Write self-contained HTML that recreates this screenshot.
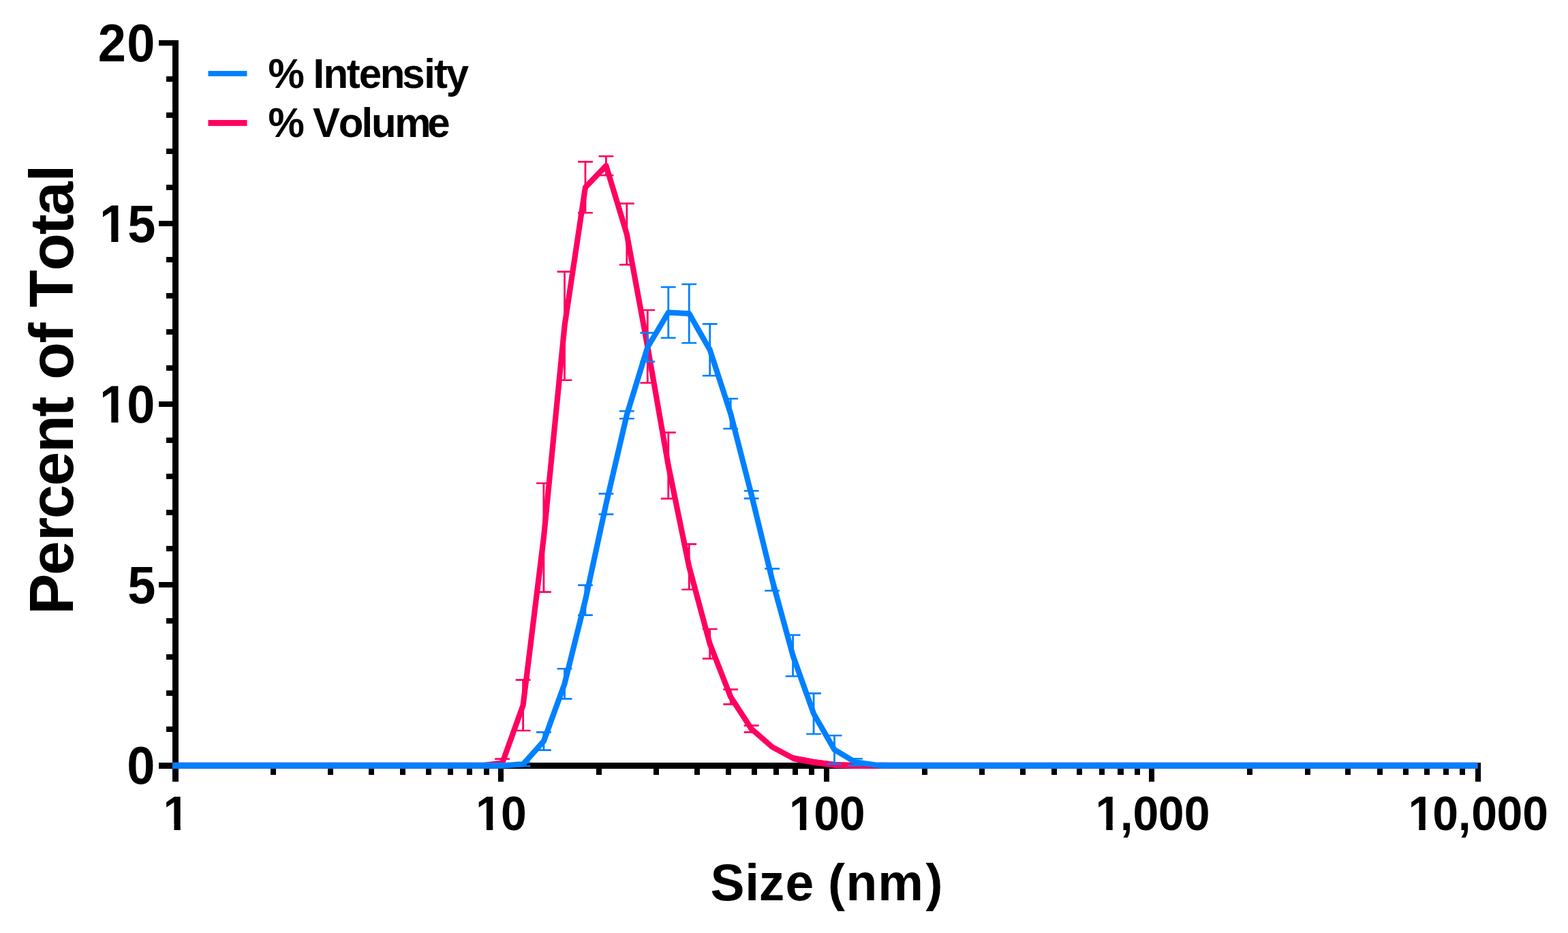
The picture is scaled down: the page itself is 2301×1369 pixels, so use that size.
<!DOCTYPE html>
<html lang="en"><head><meta charset="utf-8"><title>Size distribution</title>
<style>html,body{margin:0;padding:0;background:#fff;}svg{display:block;}text{font-family:"Liberation Sans",Arial,Helvetica,sans-serif;font-weight:700;fill:#000;font-kerning:none;white-space:pre;}</style>
</head><body>
<svg width="2301" height="1369" viewBox="0 0 2301 1369">
<rect width="2301" height="1369" fill="#fff"/>
<g id="axes">
<rect x="253.00" y="59.00" width="9.00" height="1088.00" fill="#000"/>
<rect x="233.00" y="1119.00" width="1940.00" height="9.00" fill="#000"/>
<rect x="244.00" y="1066.00" width="10.00" height="8.00" fill="#000"/>
<rect x="244.00" y="1013.00" width="10.00" height="8.00" fill="#000"/>
<rect x="244.00" y="960.00" width="10.00" height="8.00" fill="#000"/>
<rect x="244.00" y="907.00" width="10.00" height="8.00" fill="#000"/>
<rect x="233.00" y="854.00" width="21.00" height="8.00" fill="#000"/>
<rect x="244.00" y="801.00" width="10.00" height="8.00" fill="#000"/>
<rect x="244.00" y="748.00" width="10.00" height="8.00" fill="#000"/>
<rect x="244.00" y="695.00" width="10.00" height="8.00" fill="#000"/>
<rect x="244.00" y="642.00" width="10.00" height="8.00" fill="#000"/>
<rect x="233.00" y="589.00" width="21.00" height="8.00" fill="#000"/>
<rect x="244.00" y="536.00" width="10.00" height="8.00" fill="#000"/>
<rect x="244.00" y="483.00" width="10.00" height="8.00" fill="#000"/>
<rect x="244.00" y="430.00" width="10.00" height="8.00" fill="#000"/>
<rect x="244.00" y="377.00" width="10.00" height="8.00" fill="#000"/>
<rect x="233.00" y="324.00" width="21.00" height="8.00" fill="#000"/>
<rect x="244.00" y="271.00" width="10.00" height="8.00" fill="#000"/>
<rect x="244.00" y="218.00" width="10.00" height="8.00" fill="#000"/>
<rect x="244.00" y="165.00" width="10.00" height="8.00" fill="#000"/>
<rect x="244.00" y="112.00" width="10.00" height="8.00" fill="#000"/>
<rect x="233.00" y="59.00" width="21.00" height="8.00" fill="#000"/>
<rect x="397.00" y="1120.00" width="8.00" height="17.00" fill="#000"/>
<rect x="481.00" y="1120.00" width="8.00" height="17.00" fill="#000"/>
<rect x="541.00" y="1120.00" width="8.00" height="17.00" fill="#000"/>
<rect x="587.00" y="1120.00" width="8.00" height="17.00" fill="#000"/>
<rect x="625.00" y="1120.00" width="8.00" height="17.00" fill="#000"/>
<rect x="657.00" y="1120.00" width="8.00" height="17.00" fill="#000"/>
<rect x="685.00" y="1120.00" width="8.00" height="17.00" fill="#000"/>
<rect x="710.00" y="1120.00" width="8.00" height="17.00" fill="#000"/>
<rect x="875.00" y="1120.00" width="8.00" height="17.00" fill="#000"/>
<rect x="959.00" y="1120.00" width="8.00" height="17.00" fill="#000"/>
<rect x="1019.00" y="1120.00" width="8.00" height="17.00" fill="#000"/>
<rect x="1065.00" y="1120.00" width="8.00" height="17.00" fill="#000"/>
<rect x="1103.00" y="1120.00" width="8.00" height="17.00" fill="#000"/>
<rect x="1135.00" y="1120.00" width="8.00" height="17.00" fill="#000"/>
<rect x="1163.00" y="1120.00" width="8.00" height="17.00" fill="#000"/>
<rect x="1187.00" y="1120.00" width="8.00" height="17.00" fill="#000"/>
<rect x="1353.00" y="1120.00" width="8.00" height="17.00" fill="#000"/>
<rect x="1437.00" y="1120.00" width="8.00" height="17.00" fill="#000"/>
<rect x="1497.00" y="1120.00" width="8.00" height="17.00" fill="#000"/>
<rect x="1543.00" y="1120.00" width="8.00" height="17.00" fill="#000"/>
<rect x="1580.00" y="1120.00" width="8.00" height="17.00" fill="#000"/>
<rect x="1613.00" y="1120.00" width="8.00" height="17.00" fill="#000"/>
<rect x="1665.00" y="1120.00" width="8.00" height="17.00" fill="#000"/>
<rect x="1830.00" y="1120.00" width="8.00" height="17.00" fill="#000"/>
<rect x="1915.00" y="1120.00" width="8.00" height="17.00" fill="#000"/>
<rect x="1974.00" y="1120.00" width="8.00" height="17.00" fill="#000"/>
<rect x="2021.00" y="1120.00" width="8.00" height="17.00" fill="#000"/>
<rect x="2059.00" y="1120.00" width="8.00" height="17.00" fill="#000"/>
<rect x="2090.00" y="1120.00" width="8.00" height="17.00" fill="#000"/>
<rect x="2118.00" y="1120.00" width="8.00" height="17.00" fill="#000"/>
<rect x="2142.00" y="1120.00" width="8.00" height="17.00" fill="#000"/>
<rect x="1640.00" y="1120.00" width="9.00" height="17.00" fill="#000"/>
<rect x="731.00" y="1120.00" width="8.00" height="27.00" fill="#000"/>
<rect x="1209.00" y="1120.00" width="8.00" height="27.00" fill="#000"/>
<rect x="1686.00" y="1120.00" width="8.00" height="27.00" fill="#000"/>
<rect x="2165.00" y="1120.00" width="8.00" height="27.00" fill="#000"/>
</g>
<g id="ylabels">
<text transform="translate(0,89.90) scale(1,1.042)" font-size="74" x="143.82 186.38" y="0">20</text>
<text transform="translate(0,354.90) scale(1,1.042)" font-size="74" x="146.06 187.21" y="0">15</text>
<rect x="149.22" y="346.00" width="14.11" height="10.10" fill="#fff"/>
<rect x="173.48" y="346.00" width="13.17" height="10.10" fill="#fff"/>
<text transform="translate(0,619.90) scale(1,1.042)" font-size="74" x="146.06 186.38" y="0">10</text>
<rect x="149.22" y="611.00" width="14.11" height="10.10" fill="#fff"/>
<rect x="173.48" y="611.00" width="13.17" height="10.10" fill="#fff"/>
<text transform="translate(0,884.90) scale(1,1.042)" font-size="74" x="187.21" y="0">5</text>
<text transform="translate(0,1149.90) scale(1,1.042)" font-size="74" x="186.38" y="0">0</text>
</g>
<g id="xlabels">
<text transform="translate(0,1218.00) scale(1,1.047)" font-size="68" x="239.58" y="0">1</text>
<rect x="242.36" y="1209.00" width="13.09" height="10.20" fill="#fff"/>
<rect x="264.78" y="1209.00" width="12.22" height="10.20" fill="#fff"/>
<text transform="translate(0,1218.00) scale(1,1.047)" font-size="68" x="698.08 734.89" y="0">10</text>
<rect x="700.86" y="1209.00" width="13.09" height="10.20" fill="#fff"/>
<rect x="723.28" y="1209.00" width="12.22" height="10.20" fill="#fff"/>
<text transform="translate(0,1218.00) scale(1,1.047)" font-size="68" x="1157.98 1194.24 1231.64" y="0">100</text>
<rect x="1160.76" y="1209.00" width="13.09" height="10.20" fill="#fff"/>
<rect x="1183.18" y="1209.00" width="12.22" height="10.20" fill="#fff"/>
<text transform="translate(0,1218.00) scale(1,1.047)" font-size="68" x="1607.48 1643.77 1662.39 1699.79 1737.64" y="0">1,000</text>
<rect x="1610.26" y="1209.00" width="13.09" height="10.20" fill="#fff"/>
<rect x="1632.68" y="1209.00" width="12.22" height="10.20" fill="#fff"/>
<text transform="translate(0,1218.00) scale(1,1.047)" font-size="68" x="2066.43 2102.29 2139.87 2159.24 2196.49 2234.14" y="0">10,000</text>
<rect x="2069.21" y="1209.00" width="13.09" height="10.20" fill="#fff"/>
<rect x="2091.63" y="1209.00" width="12.22" height="10.20" fill="#fff"/>
</g>
<g id="titles">
<text transform="translate(0,1320.50) scale(1,1.01)" font-size="75" x="1042.47 1093.27 1113.80 1152.46 1194.17 1214.93 1241.55 1288.26 1358.49" y="0">Size (nm)</text>
<text transform="translate(106.50,900.00) rotate(-90) scale(1,1.0)" font-size="90" x="-1.84 56.00 106.05 138.88 187.10 235.69 288.51 318.49 343.01 396.51 426.48 449.09 502.76 555.66 583.52 633.29" y="0">Percent of Total</text>
</g>
<g id="legend">
<rect x="305.50" y="104.06" width="57.00" height="7.80" fill="#0080ff"/>
<rect x="305.50" y="176.06" width="57.00" height="8.77" fill="#ff0060"/>
<text transform="translate(0,128.70) scale(1,1.015)" font-size="60" x="393.47 446.82 459.57 474.46 508.76 526.67 557.66 590.24 622.29 637.01 654.64" y="0">% Intensity</text>
<text transform="translate(0,201.30) scale(1,1.015)" font-size="60" x="393.47 446.82 458.99 496.67 530.39 545.04 579.21 627.32" y="0">% Volume</text>
</g>
<g id="volume">
<path d="M737.07 1113.60V1125.60M767.59 997.60V1072.00M797.91 709.00V868.60M828.51 398.60V557.80M858.97 237.40V312.20M889.42 229.20V257.20M919.83 298.60V388.40M950.29 455.00V561.80M980.76 634.60V731.60M1011.26 798.40V865.00M1041.72 923.00V966.40M1072.20 1011.60V1033.40M1102.66 1064.60V1074.40" fill="none" stroke="#ff0060" stroke-width="2.8"/>
<path d="M726.17 1113.60H747.97M726.17 1125.60H747.97M756.69 997.60H778.49M756.69 1072.00H778.49M787.01 709.00H808.81M787.01 868.60H808.81M817.61 398.60H839.41M817.61 557.80H839.41M848.07 237.40H869.87M848.07 312.20H869.87M878.52 229.20H900.32M878.52 257.20H900.32M908.93 298.60H930.73M908.93 388.40H930.73M939.39 455.00H961.19M939.39 561.80H961.19M969.86 634.60H991.66M969.86 731.60H991.66M1000.36 798.40H1022.16M1000.36 865.00H1022.16M1030.82 923.00H1052.62M1030.82 966.40H1052.62M1061.30 1011.60H1083.10M1061.30 1033.40H1083.10M1091.76 1064.60H1113.56M1091.76 1074.40H1113.56" fill="none" stroke="#ff0060" stroke-width="2.6"/>
<polyline points="253.00,1123.30 706.59,1123.30 737.07,1119.60 767.59,1034.80 797.91,788.80 828.51,478.20 858.97,274.80 889.42,243.20 919.83,343.50 950.29,508.40 980.76,683.10 1011.26,831.70 1041.72,944.70 1072.20,1022.50 1102.66,1069.50 1133.12,1096.00 1163.59,1112.40 1194.06,1118.00 1224.51,1122.00 1254.96,1123.20 1285.50,1123.30 2168.30,1123.30" fill="none" stroke="#ff0060" stroke-width="8.2" stroke-linejoin="round" stroke-linecap="butt"/>
<polyline points="1163.59,1112.80 1194.06,1118.40 1224.51,1122.40 1254.96,1123.60 1285.50,1123.50" fill="none" stroke="#ff0060" stroke-width="9" stroke-linejoin="round"/>
<rect x="253.00" y="1118.75" width="455.59" height="9.05" fill="#ff0060"/>
<rect x="1283.50" y="1118.75" width="884.80" height="9.05" fill="#ff0060"/>
</g>
<g id="intensity">
<path d="M767.59 1119.00V1124.00M797.91 1074.40V1100.60M828.51 981.20V1025.40M858.97 858.60V902.60M889.42 724.40V754.60M919.83 603.20V614.20M950.29 488.40V530.60M980.76 421.20V495.80M1011.26 417.00V503.20M1041.72 475.40V551.20M1072.20 585.00V629.00M1102.66 720.20V731.40M1133.12 834.40V866.80M1163.59 931.80V992.20M1194.06 1017.40V1077.00M1224.51 1079.20V1121.00M1254.96 1113.20V1123.20M1285.50 1121.70V1123.30" fill="none" stroke="#0080ff" stroke-width="2.8"/>
<path d="M756.69 1119.00H778.49M756.69 1124.00H778.49M787.01 1074.40H808.81M787.01 1100.60H808.81M817.61 981.20H839.41M817.61 1025.40H839.41M848.07 858.60H869.87M848.07 902.60H869.87M878.52 724.40H900.32M878.52 754.60H900.32M908.93 603.20H930.73M908.93 614.20H930.73M939.39 488.40H961.19M939.39 530.60H961.19M969.86 421.20H991.66M969.86 495.80H991.66M1000.36 417.00H1022.16M1000.36 503.20H1022.16M1030.82 475.40H1052.62M1030.82 551.20H1052.62M1061.30 585.00H1083.10M1061.30 629.00H1083.10M1091.76 720.20H1113.56M1091.76 731.40H1113.56M1122.22 834.40H1144.02M1122.22 866.80H1144.02M1152.69 931.80H1174.49M1152.69 992.20H1174.49M1183.16 1017.40H1204.96M1183.16 1077.00H1204.96M1213.61 1079.20H1235.41M1213.61 1121.00H1235.41M1244.06 1113.20H1265.86M1244.06 1123.20H1265.86M1274.60 1121.70H1296.40M1274.60 1123.30H1296.40" fill="none" stroke="#0080ff" stroke-width="2.6"/>
<polyline points="253.00,1123.30 737.07,1123.30 767.59,1121.50 797.91,1087.50 828.51,1003.30 858.97,880.60 889.42,739.50 919.83,608.70 950.29,509.50 980.76,458.50 1011.26,460.10 1041.72,513.30 1072.20,607.00 1102.66,725.80 1133.12,850.60 1163.59,962.00 1194.06,1047.20 1224.51,1100.10 1254.96,1118.20 1285.50,1122.50 1315.95,1123.30 2168.30,1123.30" fill="none" stroke="#0080ff" stroke-width="8.2" stroke-linejoin="round" stroke-linecap="butt"/>
<rect x="253.00" y="1118.80" width="486.07" height="8.90" fill="#0080ff"/>
<rect x="1289.50" y="1118.80" width="878.80" height="8.90" fill="#0080ff"/>
</g>
</svg></body></html>
